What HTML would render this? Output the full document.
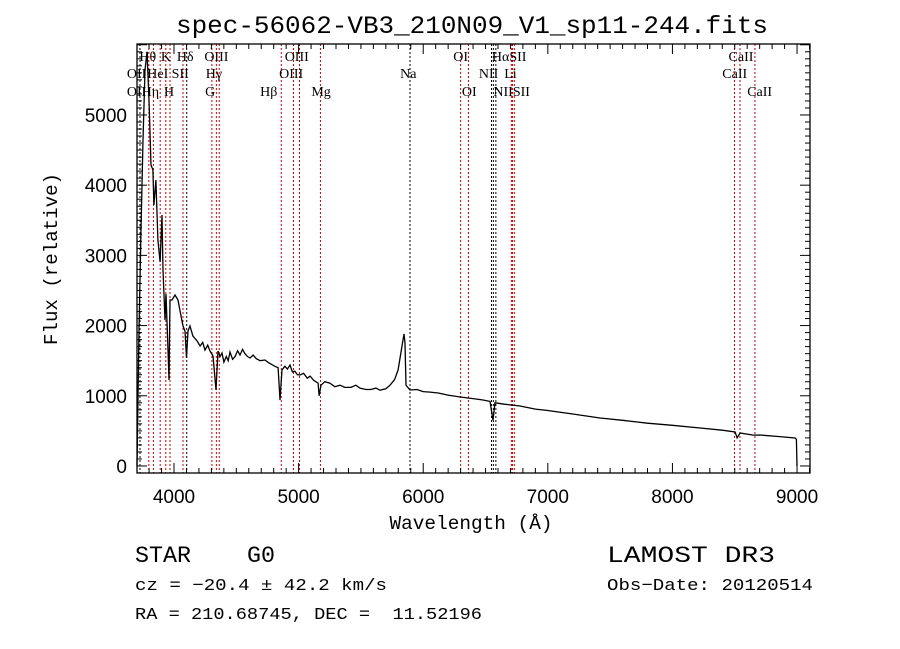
<!DOCTYPE html>
<html><head><meta charset="utf-8"><style>
html,body{margin:0;padding:0;background:#fff;}
svg{display:block;}
text{white-space:pre;}
</style></head><body>
<svg id="chart" width="900" height="649" viewBox="0 0 900 649" xmlns="http://www.w3.org/2000/svg" xml:space="preserve">
<rect width="900" height="649" fill="#fff"/>
<text x="472" y="33" text-anchor="middle" font-family="Liberation Mono, monospace" font-size="25" textLength="592" lengthAdjust="spacingAndGlyphs">spec-56062-VB3_210N09_V1_sp11-244.fits</text>
<g id="lines"></g>
<g id="labels" font-family="Liberation Serif, DejaVu Serif, serif" font-size="14"></g>
<g id="axes"></g>
<path id="spec" fill="none" stroke="#000" stroke-width="1.3"/>
<rect x="137" y="44" width="673" height="429" fill="none" stroke="#000" stroke-width="1.3"/>
<text x="471" y="529" text-anchor="middle" font-family="Liberation Mono, monospace" font-size="19" textLength="163" lengthAdjust="spacingAndGlyphs">Wavelength (Å)</text>
<text transform="translate(57,259) rotate(-90)" text-anchor="middle" font-family="Liberation Mono, monospace" font-size="19" textLength="172" lengthAdjust="spacingAndGlyphs">Flux (relative)</text>
<g font-family="Liberation Mono, monospace" fill="#000">
<text x="135" y="562" font-size="23" textLength="140" lengthAdjust="spacingAndGlyphs">STAR    G0</text>
<text x="607" y="562" font-size="23" textLength="168" lengthAdjust="spacingAndGlyphs">LAMOST DR3</text>
<text x="135" y="590" font-size="17" textLength="252" lengthAdjust="spacingAndGlyphs">cz = −20.4 ± 42.2 km/s</text>
<text x="607" y="590" font-size="17" textLength="206" lengthAdjust="spacingAndGlyphs">Obs−Date: 20120514</text>
<text x="135" y="619" font-size="17" textLength="347" lengthAdjust="spacingAndGlyphs">RA = 210.68745, DEC =  11.52196</text>
</g>
</svg>
<script>
const wavelengths=[3703,3719,3735,3751,3767,3783,3799,3815,3831,3839,3855,3871,3888,3904,3912,3928,3936,3952,3960,3968,3984,4008,4032,4056,4072,4088,4100,4112,4128,4152,4185,4209,4230,4249,4270,4289,4313,4337,4353,4370,4385,4400,4420,4435,4449,4470,4490,4510,4530,4550,4570,4590,4610,4635,4660,4690,4730,4760,4780,4810,4835,4851,4867,4890,4910,4931,4950,4970,4990,5011,5040,5070,5092,5120,5156,5164,5180,5210,5250,5290,5332,5370,5420,5460,5493,5540,5580,5620,5653,5700,5733,5770,5798,5830,5846,5854,5862,5894,5950,6000,6055,6120,6200,6296,6400,6480,6536,6560,6576,6650,6777,6900,7000,7200,7419,7600,7800,8000,8222,8400,8503,8519,8543,8647,8703,8850,8984,8995,9000];
const fluxes=[0,1937,3362,4644,5641,5900,5213,4288,4217,3718,4074,3219,2906,3575,2792,2080,2450,1652,1225,2365,2365,2436,2365,2137,1994,1923,1538,1923,1994,1852,1781,1709,1760,1650,1720,1638,1567,1083,1638,1560,1610,1480,1560,1500,1624,1520,1560,1640,1581,1660,1600,1560,1538,1580,1530,1500,1510,1470,1450,1420,1400,940,1370,1420,1380,1439,1340,1350,1300,1296,1320,1250,1280,1220,1180,1000,1150,1200,1180,1130,1150,1120,1120,1150,1110,1090,1090,1110,1080,1100,1150,1230,1368,1709,1880,1750,1152,1082,1090,1060,1053,1040,1010,983,960,940,920,650,900,880,855,810,790,740,684,650,610,580,541,510,484,400,470,440,441,420,399,380,0];
const markerWaves=[3727,3798,3835,3889,3934,3968,4072,4102,4304,4340,4363,4861,4959,5007,5175,5894,6300,6363,6548,6563,6583,6707,6716,6731,8498,8542,8662];
const markerColors=["#000","#c00","#c00","#c00","#c00","#c00","#c00","#000","#c00","#c00","#c00","#c00","#c00","#c00","#c00","#000","#c00","#c00","#000","#000","#000","#c00","#c00","#c00","#c00","#c00","#c00"];
const labelTexts=["Hθ","K","Hδ","OIII","OIII","OI","HαSII","CaII","OII","HeI","SII","Hγ","OIII","Na","NII","Li","CaII","OII","Hη","H","G","Hβ","Mg","OI","NIISII","CaII"];
const labelWaves=[3790,3935,4090,4340,4985,6300,6690,8550,3700,3870,4050,4320,4940,5880,6525,6700,8500,3700,3810,3960,4290,4760,5180,6370,6710,8700];
const labelRows=[0,0,0,0,0,0,0,0,1,1,1,1,1,1,1,1,1,2,2,2,2,2,2,2,2,2];
const xTicks=[4000,5000,6000,7000,8000,9000];
const yTicks=[0,1000,2000,3000,4000,5000];
const X0=137,X1=810,Y0=44,Y1=473,WMIN=3703,WMAX=9104,FMIN=-100,FMAX=6011;
const xs=w=>X0+(w-WMIN)/(WMAX-WMIN)*(X1-X0);
const ys=f=>Y1-(f-FMIN)/(FMAX-FMIN)*(Y1-Y0);
const NS="http://www.w3.org/2000/svg";
function mk(tag,attrs,parent){const e=document.createElementNS(NS,tag);for(const k in attrs)e.setAttribute(k,attrs[k]);parent.appendChild(e);return e;}
let d="";
for(let i=0;i<wavelengths.length;i++){d+=(i?"L":"M")+xs(wavelengths[i]).toFixed(1)+","+ys(Math.min(fluxes[i],FMAX)).toFixed(1);}
document.getElementById("spec").setAttribute("d",d);
const lg=document.getElementById("lines");
markerWaves.forEach((w,i)=>{const l=mk("line",{x1:xs(w),x2:xs(w),y1:Y0,y2:Y1,stroke:markerColors[i],"stroke-width":1,"stroke-dasharray":"2,2"},lg);

});
const lb=document.getElementById("labels");
const rowY=[61,78,96];
labelTexts.forEach((t,i)=>{const e=mk("text",{x:xs(labelWaves[i]),y:rowY[labelRows[i]],"text-anchor":"middle"},lb);e.textContent=t;

});
const ax=document.getElementById("axes");
for(let w=3800;w<=9100;w+=100){const major=w%1000===0;const L=major?10:5;
mk("line",{x1:xs(w),x2:xs(w),y1:Y1,y2:Y1-L,stroke:"#000","stroke-width":1},ax);
mk("line",{x1:xs(w),x2:xs(w),y1:Y0,y2:Y0+L,stroke:"#000","stroke-width":1},ax);}
for(let f=0;f<=6000;f+=100){const major=f%1000===0;const L=major?10:5;
mk("line",{x1:X0,x2:X0+L,y1:ys(f),y2:ys(f),stroke:"#000","stroke-width":1},ax);
mk("line",{x1:X1,x2:X1-L,y1:ys(f),y2:ys(f),stroke:"#000","stroke-width":1},ax);}
xTicks.forEach(v=>{const e=mk("text",{x:xs(v),y:503,"text-anchor":"middle","font-family":"Liberation Sans, sans-serif","font-size":19},ax);e.textContent=v;

});
yTicks.forEach(v=>{const e=mk("text",{x:127,y:ys(v)+7,"text-anchor":"end","font-family":"Liberation Sans, sans-serif","font-size":19},ax);e.textContent=v;

});
</script>
</body></html>
